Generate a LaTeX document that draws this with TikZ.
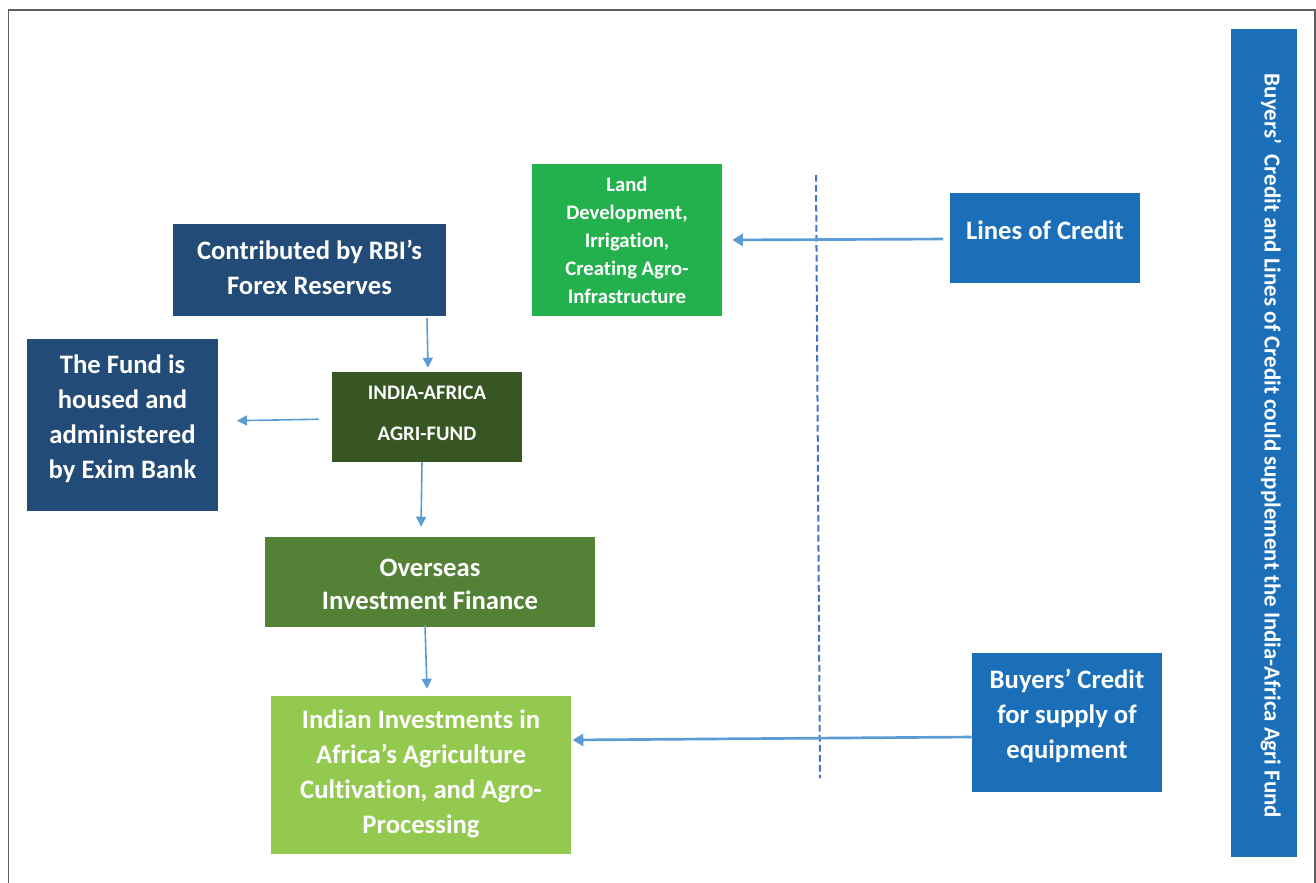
\documentclass[tikz,border=0pt]{standalone}
\usepackage{fontspec}
\setmainfont{Carlito}[Ligatures=NoCommon]
\usetikzlibrary{arrows.meta,calc}
\definecolor{navy}{HTML}{234B77}
\definecolor{darkgreen}{HTML}{375623}
\definecolor{midgreen}{HTML}{538135}
\definecolor{lightgreen}{HTML}{94C950}
\definecolor{brightgreen}{HTML}{23B14D}
\definecolor{midblue}{HTML}{1B6EB8}
\definecolor{arrowblue}{HTML}{5B9BD5}
\definecolor{dashblue}{HTML}{4472C4}
\definecolor{framegray}{HTML}{5F5F5F}
\begin{document}
\begin{tikzpicture}[x=0.75pt,y=-0.75pt,
  box/.style={rectangle,draw=none,inner sep=0pt},
  lbl/.style={inner sep=0pt,text=white,align=center,
    font=\bfseries\fontsize{20}{26.25}\selectfont},
  arr/.style={draw=arrowblue,line width=1.2pt,-{Triangle[width=7.5pt,length=7.5pt]}},
  bigarr/.style={draw=arrowblue,line width=2pt,-{Triangle[width=9pt,length=8pt]}}]
\useasboundingbox (0,0) rectangle (1316,882);
% frame
\draw[framegray,line width=1.3pt] (8.5,900) -- (8.5,10) -- (1315,10) -- (1315,900);

% boxes
\node[box,fill=navy,minimum width=204.75pt,minimum height=69pt] (rbi) at (309.5,270) {};
\node[box,fill=navy,minimum width=143.25pt,minimum height=129pt] (fund) at (122.5,425) {};
\node[box,fill=darkgreen,minimum width=142.5pt,minimum height=67.5pt] (iaaf) at (427,417) {};
\node[box,fill=midgreen,minimum width=247.5pt,minimum height=67.5pt] (oif) at (430,582) {};
\node[box,fill=lightgreen,minimum width=225pt,minimum height=118.5pt] (iii) at (421,775) {};
\node[box,fill=brightgreen,minimum width=142.5pt,minimum height=114pt] (land) at (627,240) {};
\node[box,fill=midblue,minimum width=142.5pt,minimum height=67.5pt] (loc) at (1045,238) {};
\node[box,fill=midblue,minimum width=142.5pt,minimum height=104.25pt] (bc) at (1067,722.5) {};
\node[box,fill=midblue,minimum width=49.5pt,minimum height=621pt] (bar) at (1264,443) {};

% texts
\node[lbl] (rbitxt) at ($(rbi.center)+(0,-3)$) {Contributed by RBI’s\\Forex Reserves};
\node[lbl] (fundtxt) at ($(fund.center)+(0,-6)$) {The Fund is\\housed and\\administered\\by Exim Bank};
\node[lbl,font=\bfseries\fontsize{15.5}{31}\selectfont] (iaaftxt) at ($(iaaf.center)+(0,-4)$)
  {INDIA-AFRICA\\AGRI-FUND};
\node[lbl,font=\bfseries\fontsize{20}{24.75}\selectfont] (oiftxt) at ($(oif.center)+(0,2)$)
  {Overseas\\Investment Finance};
\node[lbl] (iiitxt) at ($(iii.center)+(0,-1)$)
  {Indian Investments in\\Africa’s Agriculture\\Cultivation, and Agro-\\Processing};
\node[lbl,font=\bfseries\fontsize{15.5}{21}\selectfont] (landtxt) at (land.center)
  {Land\\Development,\\Irrigation,\\Creating Agro-\\Infrastructure};
\node[lbl] (loctxt) at ($(loc.center)+(0,-8)$) {Lines of Credit};
\node[lbl] (bctxt) at ($(bc.center)+(0,-7)$) {Buyers’ Credit\\for supply of\\equipment};
\node[lbl,rotate=-90,font=\bfseries\fontsize{17.2}{20}\selectfont] (bartext)
  at ($(bar.center)+(7,3)$)
  {Buyers’\ \ Credit and Lines of Credit could supplement the India-Africa Agri Fund};

% dashed divider
\coordinate (dtop) at (816,175);
\coordinate (dbot) at (820,778);
\draw[dashblue,line width=1.5pt,dash pattern=on 5pt off 2.5pt] (dtop) -- (dbot);

% connectors
\draw[arr] (iaaf.north |- rbi.south) ++(0,2) -- ($(iaaf.north)+(1,-4)$);
\draw[arr,shorten <=9.75pt,shorten >=14pt] ($(iaaf.west)+(0,2)$) -- ($(fund.east)+(0,-4)$);
\draw[arr] ($(iaaf.south)+(-5,0)$) -- ($(oif.north)+(-9,-10)$);
\draw[arr] ($(oif.south)+(-5,-2)$) -- ($(iii.north)+(6,-7)$);
\draw[bigarr,shorten <=5pt,shorten >=7.5pt] ($(loc.west)+(0,1)$) -- ($(land.east)+(0,0)$);
\draw[bigarr,shorten >=1pt] ($(bc.west)+(0,14.5)$) -- ($(iii.east)+(0,-35)$);
\end{tikzpicture}
\end{document}
